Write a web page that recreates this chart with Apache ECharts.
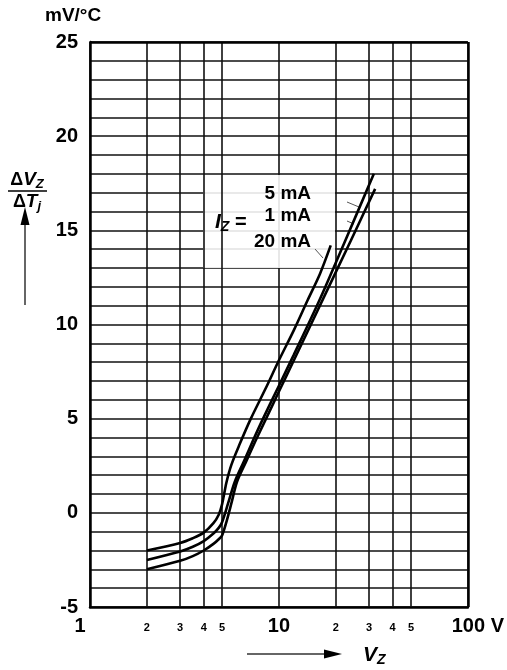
<!DOCTYPE html>
<html>
<head>
<meta charset="utf-8">
<script src="https://cdn.jsdelivr.net/npm/echarts@6/dist/echarts.min.js"></script>
<style>
html,body{margin:0;padding:0;background:#fff;}
#c{width:507px;height:670px;}
</style>
</head>
<body>
<div id="c"></div>
<script>
// ---- data ----
const vz20mA = [2, 3, 3.5, 4, 4.5, 4.8, 5.0, 5.27, 5.6, 6.2, 7.1, 8.5, 10, 12, 14.2, 16.5, 18.8];
const tc20mA = [-2.0, -1.6, -1.35, -1.05, -0.55, -0.1, 0.45, 1.6, 2.55, 3.65, 5.0, 6.6, 8.1, 9.7, 11.3, 12.7, 14.2];
const vz5mA  = [2, 3, 3.5, 4, 4.5, 4.8, 5.0, 5.38, 5.84, 6.5, 7.3, 8.24, 10, 12, 16.4, 22, 31.8];
const tc5mA  = [-2.5, -2.05, -1.8, -1.5, -1.1, -0.8, -0.5, 0.5, 1.65, 2.7, 3.85, 5.0, 6.75, 8.4, 11.3, 14.25, 18.0];
const vz1mA  = [2, 3, 3.5, 4, 4.5, 4.8, 5.0, 5.3, 5.6, 6.0, 6.7, 7.5, 8.55, 10, 12, 17.2, 24, 32.3];
const tc1mA  = [-3.0, -2.55, -2.3, -2.0, -1.65, -1.4, -1.2, -0.4, 0.5, 1.65, 2.72, 3.8, 5.0, 6.44, 8.1, 11.4, 14.45, 17.2];
const minorX = [2, 3, 4, 5, 20, 30, 40, 50];
const minorXLabels = ['2', '3', '4', '5', '2', '3', '4', '5'];
const seriesNames = ['20 mA', '5 mA', '1 mA'];

const zip = (xs, ys) => xs.map((x, i) => [x, ys[i]]);
const curveStyle = {color: '#000', width: 2.6};
const FONT = '"Liberation Sans", Arial, sans-serif';

const chart = echarts.init(document.getElementById('c'), null, {renderer: 'canvas'});
chart.setOption({
  animation: false,
  backgroundColor: '#fff',
  grid: {left: 90, right: 38, top: 42, bottom: 63, show: false},
  xAxis: {
    type: 'log', logBase: 10, min: 1, max: 100,
    axisLine: {show: true, onZero: false, lineStyle: {color: '#000', width: 2.5}},
    axisTick: {show: false},
    splitLine: {show: true, lineStyle: {color: '#111', width: 1.6}},
    axisLabel: {
      margin: 9, color: '#000', fontFamily: FONT, fontWeight: 'bold', fontSize: 20,
      formatter: function (v) {
        if (Math.abs(v - 1) < 1e-6) return '{one|1}';
        if (Math.abs(v - 100) < 1e-6) return '{h|100}{u| V}';
        return '{n|' + Math.round(v) + '}';
      },
      rich: {
        one: {fontFamily: FONT, fontWeight: 'bold', fontSize: 20, color: '#000', padding: [0, 20, 0, 0]},
        n: {fontFamily: FONT, fontWeight: 'bold', fontSize: 20, color: '#000'},
        h: {fontFamily: FONT, fontWeight: 'bold', fontSize: 20, color: '#000', padding: [0, 0, 0, 20]},
        u: {fontFamily: FONT, fontWeight: 'bold', fontSize: 20, color: '#000'}
      }
    }
  },
  yAxis: {
    type: 'value', min: -5, max: 25, interval: 1,
    axisLine: {show: true, lineStyle: {color: '#000', width: 2.5}},
    axisTick: {show: false},
    splitLine: {show: true, lineStyle: {color: '#111', width: 1.6}},
    axisLabel: {
      interval: 0, margin: 12, color: '#000', fontFamily: FONT, fontWeight: 'bold', fontSize: 20,
      formatter: v => (v % 5 === 0 ? String(v) : '')
    }
  },
  series: [
    {
      type: 'line', data: [], z: 1, silent: true,
      markLine: {
        silent: true, symbol: ['none', 'none'], animation: false,
        lineStyle: {color: '#111', width: 1.6, type: 'solid'},
        label: {show: true, position: 'start', distance: 15, color: '#000',
                fontFamily: FONT, fontWeight: 'bold', fontSize: 11},
        data: minorX.map((x, i) => ({xAxis: x, label: {formatter: minorXLabels[i]}}))
      }
    },
    {
      type: 'line', data: [], z: 1, silent: true,
      markLine: {
        silent: true, symbol: ['none', 'none'], animation: false,
        lineStyle: {color: '#000', width: 2.5, type: 'solid'},
        label: {show: false},
        data: [{xAxis: 100}, {yAxis: 25}]
      }
    },
    {name: seriesNames[0], type: 'line', z: 10, data: zip(vz20mA, tc20mA), showSymbol: false, symbol: 'none',
     smooth: 0.3, lineStyle: curveStyle},
    {name: seriesNames[1], type: 'line', z: 10, data: zip(vz5mA, tc5mA), showSymbol: false, symbol: 'none',
     smooth: 0.3, lineStyle: curveStyle},
    {name: seriesNames[2], type: 'line', z: 10, data: zip(vz1mA, tc1mA), showSymbol: false, symbol: 'none',
     smooth: 0.3, lineStyle: curveStyle}
  ],
  graphic: [
    // label box covering the grid
    {type: 'rect', z: 5, shape: {x: 203, y: 175, width: 132, height: 93},
     style: {fill: 'rgba(255,255,255,0.88)'}},
    {type: 'text', z: 6, x: 215, y: 222,
     style: {text: '{i|I}{s|Z}{e| =}', verticalAlign: 'middle', rich: {
       i: {fontFamily: FONT, fontWeight: 'bold', fontStyle: 'italic', fontSize: 21, fill: '#000'},
       s: {fontFamily: FONT, fontWeight: 'bold', fontStyle: 'italic', fontSize: 14, fill: '#000', verticalAlign: 'bottom', padding: [10, 0, 0, 0]},
       e: {fontFamily: FONT, fontWeight: 'bold', fontSize: 20, fill: '#000'}
     }}},
    {type: 'text', z: 6, x: 311, y: 194, style: {text: seriesNames[1], align: 'right', verticalAlign: 'middle',
     font: 'bold 19px ' + FONT, fill: '#000'}},
    {type: 'text', z: 6, x: 311, y: 216, style: {text: seriesNames[2], align: 'right', verticalAlign: 'middle',
     font: 'bold 19px ' + FONT, fill: '#000'}},
    {type: 'text', z: 6, x: 311, y: 242, style: {text: seriesNames[0], align: 'right', verticalAlign: 'middle',
     font: 'bold 19px ' + FONT, fill: '#000'}},
    // leader lines
    {type: 'line', z: 6, shape: {x1: 347, y1: 202, x2: 359, y2: 207}, style: {stroke: '#555', lineWidth: 1}},
    {type: 'line', z: 6, shape: {x1: 347, y1: 221, x2: 354, y2: 224}, style: {stroke: '#555', lineWidth: 1}},
    {type: 'line', z: 6, shape: {x1: 315, y1: 249, x2: 323, y2: 258}, style: {stroke: '#555', lineWidth: 1}},
    // unit label
    {type: 'text', x: 45, y: 16, style: {text: 'mV/°C', verticalAlign: 'middle', font: 'bold 19px ' + FONT, fill: '#000'}},
    // y-axis title fraction
    {type: 'text', x: 27, y: 180, style: {text: '{d|Δ}{v|V}{s|Z}', align: 'center', verticalAlign: 'middle', rich: {
       d: {fontFamily: FONT, fontWeight: 'bold', fontSize: 18, fill: '#000'},
       v: {fontFamily: FONT, fontWeight: 'bold', fontStyle: 'italic', fontSize: 19, fill: '#000'},
       s: {fontFamily: FONT, fontWeight: 'bold', fontStyle: 'italic', fontSize: 13, fill: '#000', padding: [8, 0, 0, 0]}
     }}},
    {type: 'line', shape: {x1: 8, y1: 191, x2: 47, y2: 191}, style: {stroke: '#000', lineWidth: 1.5}},
    {type: 'text', x: 27, y: 202, style: {text: '{d|Δ}{v|T}{s|j}', align: 'center', verticalAlign: 'middle', rich: {
       d: {fontFamily: FONT, fontWeight: 'bold', fontSize: 18, fill: '#000'},
       v: {fontFamily: FONT, fontWeight: 'bold', fontStyle: 'italic', fontSize: 19, fill: '#000'},
       s: {fontFamily: FONT, fontWeight: 'bold', fontStyle: 'italic', fontSize: 13, fill: '#000', padding: [8, 0, 0, 0]}
     }}},
    // y arrow
    {type: 'line', shape: {x1: 25, y1: 305, x2: 25, y2: 222}, style: {stroke: '#333', lineWidth: 1.5}},
    {type: 'polygon', shape: {points: [[25, 207], [20.5, 225], [29.5, 225]]}, style: {fill: '#000'}},
    // x arrow
    {type: 'line', shape: {x1: 247, y1: 654, x2: 326, y2: 654}, style: {stroke: '#333', lineWidth: 1.5}},
    {type: 'polygon', shape: {points: [[342, 654], [324, 649.5], [324, 658.5]]}, style: {fill: '#000'}},
    {type: 'text', x: 363, y: 655, style: {text: '{v|V}{s|Z}', verticalAlign: 'middle', rich: {
       v: {fontFamily: FONT, fontWeight: 'bold', fontStyle: 'italic', fontSize: 21, fill: '#000'},
       s: {fontFamily: FONT, fontWeight: 'bold', fontStyle: 'italic', fontSize: 14, fill: '#000', padding: [10, 0, 0, 0]}
     }}}
  ]
});
</script>
</body>
</html>
